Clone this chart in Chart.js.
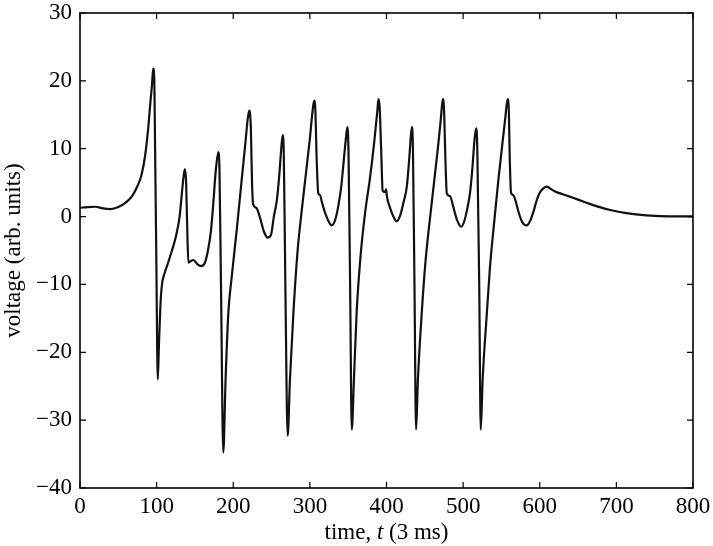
<!DOCTYPE html>
<html>
<head>
<meta charset="utf-8">
<script src="https://cdn.jsdelivr.net/npm/chart.js"></script>
<style>
html, body { margin: 0; padding: 0; background: #fff; }
</style>
</head>
<body>
<canvas id="voltageTrace" width="713" height="546"></canvas>
<script>
// time samples (units of 3 ms) and the voltage
const timeSteps = [
    0, 10, 20, 30, 40, 50, 60, 68, 75, 80, 85, 89, 92, 94, 95.5, 97, 98, 99.5,
    101.5, 103, 105, 107, 110, 115, 120, 125, 130, 133, 135.5, 137, 138.5, 140, 141.5,
    144, 148, 153, 158, 163, 167, 171, 174, 177, 180.5, 182, 184, 187,
    190, 193.6, 198, 204.5, 211, 216, 219, 221, 223, 224.5, 226, 230, 235, 240, 245,
    249, 253, 257, 260, 263, 264.6, 266, 268, 271,
    274, 278.5, 284, 289, 294, 300, 303, 305.5, 307, 309, 311, 313, 316, 320, 324,
    328.5, 333, 337, 341, 344, 347, 349, 350.5, 352.5, 354.7,
    357.5, 361, 366, 372, 378.6, 384, 388, 389.5, 391, 393, 395, 398, 399.5, 400.5,
    404, 409, 413.4, 418, 422, 426.5, 430, 433, 434.5, 436.5, 438.6,
    441, 446, 451, 457, 462, 467, 471, 473.5, 475, 477, 478.7, 483, 487, 492,
    497.4, 502, 506, 509, 512, 515, 517, 518.5, 521, 523,
    525.5, 531, 535, 539.5, 546, 551, 555, 558, 559.5, 561, 562.5, 565, 568, 572,
    577, 583, 588, 592, 596, 600, 605, 609, 614, 620, 630, 640, 650, 661, 675,
    692, 713, 735, 757, 780, 800
];
const voltage = [
    1.3, 1.4, 1.45, 1.2, 1.1, 1.4, 2.1, 3.0, 4.5, 6.0, 9.0, 13.0, 17.0, 19.5, 21.8, 20.0, 10, -5,
    -24, -19, -13, -10, -8.5, -6.8, -5, -3, 0, 3.5, 6.2, 7.0, 5, -2, -6.8,
    -6.6, -6.4, -7.0, -7.3, -6.8, -5, -2, 2, 6.5, 9.5, 7, -10, -34.8,
    -24, -14.2, -8.9, -2, 5.4, 11, 14.5, 15.6, 13, 5, 1.8, 1.3, -0.2, -2.2, -3.1,
    -2.8, 0, 2.5, 6, 10.5, 12, 9, -10, -32.3,
    -24, -14.2, -5, 0.5, 5.5, 11.5, 15, 17.1, 16, 8, 3.4, 3.2, 2, 0.5, -0.6,
    -1.3, -0.5, 1.5, 4.5, 8, 11.5, 13.2, 9, -10, -31.4,
    -24, -14.2, -6, 0.5, 5.8, 11, 15.5, 17.3, 16.2, 10, 3.8, 3.6, 4.0, 3.0,
    1.5, 0, -0.7, 0.2, 2, 4.4, 9, 13.2, 10, -10, -31.4,
    -24, -14.2, -6.5, 0, 5, 10, 14.5, 17.3, 16, 8, 3.4, 3.0, 1.5, -0.5,
    -1.5, -0.5, 1.5, 3.5, 7, 11.5, 13.0, 10, -10, -31.4,
    -24, -14.2, -7.5, -2, 5.4, 10.5, 14.5, 17.3, 16, 8, 3.5, 3.2, 2.5, 0.8,
    -0.8, -1.3, -0.5, 0.8, 2.4, 3.5, 4.2, 4.4, 4.1, 3.7, 3.3, 2.9, 2.5, 2.05, 1.5,
    0.97, 0.5, 0.22, 0.08, 0.02, 0.02
];
const xTicks = [0, 100, 200, 300, 400, 500, 600, 700, 800];
const yTicks = [-40, -30, -20, -10, 0, 10, 20, 30];

const serif = "'Liberation Serif', 'Times New Roman', serif";
const fontSize = 23;

// box round the plot, inward tick marks, x title with italic t
const frame = {
    id: 'frame',
    afterDraw(chart) {
        const ctx = chart.ctx;
        const a = chart.chartArea;
        const xs = chart.scales.x;
        const ys = chart.scales.y;
        ctx.save();
        ctx.strokeStyle = '#000';
        ctx.lineWidth = 1.6;
        ctx.strokeRect(a.left, a.top, a.right - a.left, a.bottom - a.top);
        ctx.lineWidth = 1.2;
        ctx.beginPath();
        xTicks.forEach(v => {
            const px = xs.getPixelForValue(v);
            ctx.moveTo(px, a.bottom); ctx.lineTo(px, a.bottom - 6);
            ctx.moveTo(px, a.top); ctx.lineTo(px, a.top + 6);
        });
        yTicks.forEach(v => {
            const py = ys.getPixelForValue(v);
            ctx.moveTo(a.left, py); ctx.lineTo(a.left + 6, py);
            ctx.moveTo(a.right, py); ctx.lineTo(a.right - 6, py);
        });
        ctx.stroke();

        const parts = [
            ['time, ', 'normal'],
            ['t', 'italic'],
            [' (3 ms)', 'normal']
        ];
        let total = 0;
        parts.forEach(p => {
            ctx.font = p[1] + ' ' + fontSize + 'px ' + serif;
            total += ctx.measureText(p[0]).width;
        });
        let x = (a.left + a.right) / 2 - total / 2;
        ctx.fillStyle = '#000';
        ctx.textBaseline = 'middle';
        ctx.textAlign = 'left';
        parts.forEach(p => {
            ctx.font = p[1] + ' ' + fontSize + 'px ' + serif;
            ctx.fillText(p[0], x, 533);
            x += ctx.measureText(p[0]).width;
        });
        ctx.restore();
    }
};

const trace = document.getElementById('voltageTrace').getContext('2d');
let voltageTrace = new Chart(trace, {
    type: 'line',
    data: {
        datasets: [{
            data: timeSteps.map((t, i) => ({ x: t, y: voltage[i] })),
            borderColor: '#111',
            borderWidth: 2.2,
            pointRadius: 0,
            fill: false,
            cubicInterpolationMode: 'monotone'
        }]
    },
    options: {
        responsive: false,
        animation: false,
        layout: { padding: { top: 13, right: 20, left: 0, bottom: 0 } },
        plugins: { legend: { display: false }, tooltip: { enabled: false } },
        scales: {
            x: {
                type: 'linear',
                min: 0,
                max: 800,
                afterBuildTicks: s => { s.ticks = xTicks.map(v => ({ value: v })); },
                afterFit: s => {
                    s.height = 58;
                    s.paddingLeft = 0;
                    s.paddingRight = 0;
                },
                grid: { display: false, drawTicks: false },
                border: { display: false },
                ticks: { padding: 5, color: '#000', maxRotation: 0, font: { family: serif, size: fontSize } }
            },
            y: {
                type: 'linear',
                min: -40,
                max: 30,
                afterBuildTicks: s => { s.ticks = yTicks.map(v => ({ value: v })); },
                afterFit: s => {
                    s.width = 80;
                    s.paddingTop = 0;
                    s.paddingBottom = 0;
                },
                grid: { display: false, drawTicks: false },
                border: { display: false },
                ticks: {
                    padding: 8,
                    color: '#000',
                    font: { family: serif, size: fontSize },
                    callback: v => v < 0 ? '\u2212' + Math.abs(v) : String(v)
                },
                title: {
                    display: true,
                    text: 'voltage (arb. units)',
                    color: '#000',
                    font: { family: serif, size: fontSize },
                    padding: { top: 0, bottom: 0 }
                }
            }
        }
    },
    plugins: [frame]
});
</script>
</body>
</html>
